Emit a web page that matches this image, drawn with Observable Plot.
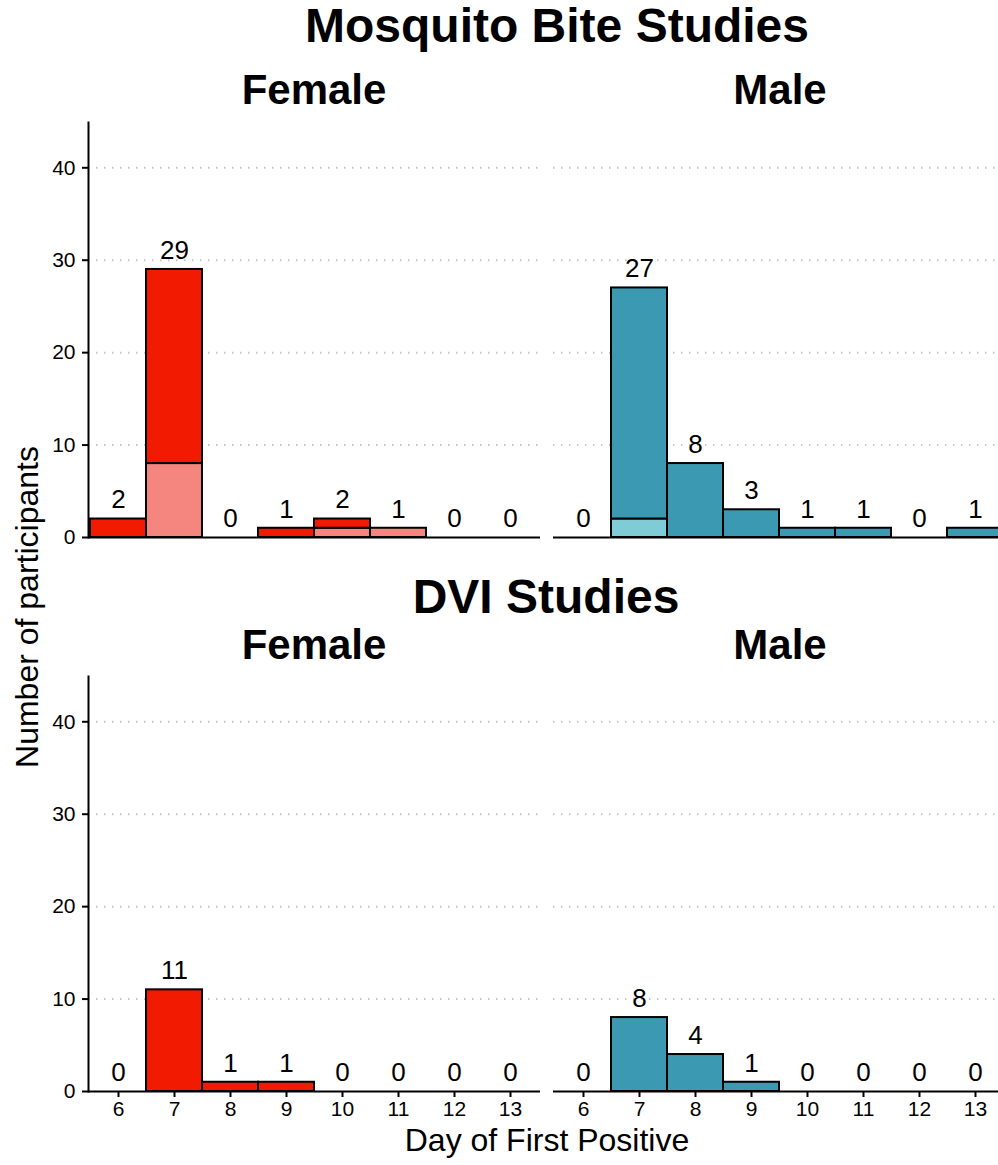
<!DOCTYPE html>
<html>
<head>
<meta charset="utf-8">
<script src="https://cdn.jsdelivr.net/npm/d3@7"></script>
<script src="https://cdn.jsdelivr.net/npm/@observablehq/plot@0.6"></script>
<style>
  html, body { margin: 0; padding: 0; background: white; overflow: hidden; }
  #page { position: relative; width: 998px; height: 1165px; overflow: hidden; background: white;
          font-family: "Liberation Sans", Arial, Helvetica, sans-serif; color: black; }
  .t { position: absolute; white-space: nowrap; line-height: 1; }
  .bold { font-weight: bold; }
  .panel { position: absolute; }
  .panel svg { max-width: none; }
</style>
</head>
<body>
<div id="page">
  <div class="t bold" id="t1" style="font-size:48px;">Mosquito Bite Studies</div>
  <div class="t bold" id="f1" style="font-size:42px;">Female</div>
  <div class="t bold" id="m1" style="font-size:42px;">Male</div>
  <div class="t bold" id="t2" style="font-size:48px;">DVI Studies</div>
  <div class="t bold" id="f2" style="font-size:42px;">Female</div>
  <div class="t bold" id="m2" style="font-size:42px;">Male</div>
  <div class="t" id="xt" style="font-size:32px;">Day of First Positive</div>
  <div class="t" id="yt" style="font-size:32px;">Number of participants</div>
</div>
<script>
// Day of first positive result (x categories)
const days = ["6", "7", "8", "9", "10", "11", "12", "13"];

// Mosquito bite studies: counts split into a lighter lower part and a darker upper part
const biteFemaleLower = [0, 8, 0, 0, 1, 1, 0, 0];
const biteFemaleUpper = [2, 21, 0, 1, 1, 0, 0, 0];
const biteMaleLower   = [0, 2, 0, 0, 0, 0, 0, 0];
const biteMaleUpper   = [0, 25, 8, 3, 1, 1, 0, 1];

// DVI studies
const dviFemale = [0, 11, 1, 1, 0, 0, 0, 0];
const dviMale   = [0, 8, 4, 1, 0, 0, 0, 0];

const yTicks = [0, 10, 20, 30, 40];

const colors = {
  femaleDark: "#F21A00", femaleLight: "#F5857F",
  maleDark: "#3B9AB2", maleLight: "#7FCCD7"
};

const FONT = '"Liberation Sans", Arial, Helvetica, sans-serif';
const TICK_FONT = 21;
const page = document.getElementById("page");

// place a line-height:1 text block so its baseline lands at y
function place(id, cx, baseline) {
  const el = document.getElementById(id);
  const fs = parseFloat(el.style.fontSize);
  el.style.top = (baseline - 0.8465 * fs) + "px";
  el.style.left = cx + "px";
  el.style.transform = "translateX(-50%)";
}
place("t1", 557, 43);
place("f1", 314, 105);
place("m1", 780, 105);
place("t2", 546, 614);
place("f2", 314, 660);
place("m2", 780, 660);
place("xt", 547, 1151);
{
  const el = document.getElementById("yt");
  el.style.left = "27px";
  el.style.top = "607px";
  el.style.transform = "translate(-50%, -50%) rotate(-90deg)";
}

function rowsFrom(lower, upper, lightColor, darkColor) {
  const rows = [];
  days.forEach((d, i) => { if (lower[i] > 0) rows.push({day: d, n: lower[i], color: lightColor}); });
  days.forEach((d, i) => { if (upper[i] > 0) rows.push({day: d, n: upper[i], color: darkColor}); });
  return rows;
}
function totalsFrom(lower, upper) {
  return days.map((d, i) => ({day: d, total: lower[i] + upper[i]}));
}

// one facet panel
function panel({left, top, rows, totals, yAxis, xAxis}) {
  const plotW = 452;
  const mL = yAxis ? 88 : 5;
  const mB = xAxis ? 40 : 8;
  const mT = 22;
  const plotH = 415;
  const marks = [
    Plot.gridY([10, 20, 30, 40], {stroke: "#c4c4c4", strokeOpacity: 1, strokeWidth: 2, strokeDasharray: "1.5,6.5"}),
    Plot.barY(rows, {x: "day", y: "n", fill: "color", stroke: "black", strokeWidth: 2, inset: 0}),
    Plot.ruleY([0], {stroke: "black", strokeWidth: 2}),
    Plot.text(totals, {x: "day", y: "total", text: d => String(d.total), dy: -19, fontSize: 26, fill: "black"})
  ];
  if (yAxis) {
    marks.push(Plot.axisY(yTicks, {tickSize: 6, tickPadding: 7, fontSize: TICK_FONT, strokeWidth: 2, label: null, color: "black"}));
    marks.push(Plot.frame({anchor: "left", stroke: "black", strokeWidth: 2}));
  }
  if (xAxis) {
    marks.push(Plot.axisX({tickSize: 6, tickPadding: 4, fontSize: TICK_FONT, strokeWidth: 2, label: null, color: "black"}));
  }
  const svg = Plot.plot({
    width: mL + plotW,
    height: mT + plotH + mB,
    marginLeft: mL, marginRight: 0, marginTop: mT, marginBottom: mB,
    x: {type: "band", domain: days, padding: 0, axis: null},
    y: {domain: [0, 44.9], axis: null},
    color: {type: "identity"},
    style: {fontFamily: FONT, fontSize: TICK_FONT + "px", background: "transparent", overflow: "visible", color: "black"},
    marks
  });
  // make sure the tick labels carry the intended size
  svg.querySelectorAll('g[aria-label$="tick label"]').forEach(g => {
    g.setAttribute("font-size", TICK_FONT);
    g.style.fontSize = TICK_FONT + "px";
    g.querySelectorAll("text").forEach(t => { t.removeAttribute("font-size"); t.style.fontSize = TICK_FONT + "px"; });
  });
  const wrap = document.createElement("div");
  wrap.className = "panel";
  wrap.style.left = (left - mL) + "px";
  wrap.style.top = (top - mT) + "px";
  wrap.appendChild(svg);
  page.appendChild(wrap);
}

// top row: mosquito bite studies (plot area top 122, baseline 537)
panel({left: 88, top: 122, rows: rowsFrom(biteFemaleLower, biteFemaleUpper, colors.femaleLight, colors.femaleDark),
       totals: totalsFrom(biteFemaleLower, biteFemaleUpper), yAxis: true, xAxis: false});
panel({left: 553, top: 122, rows: rowsFrom(biteMaleLower, biteMaleUpper, colors.maleLight, colors.maleDark),
       totals: totalsFrom(biteMaleLower, biteMaleUpper), yAxis: false, xAxis: false});

// bottom row: DVI studies (plot area top 677, baseline 1091)
const zeros = days.map(() => 0);
panel({left: 88, top: 676, rows: rowsFrom(zeros, dviFemale, colors.femaleLight, colors.femaleDark),
       totals: totalsFrom(zeros, dviFemale), yAxis: true, xAxis: true});
panel({left: 553, top: 676, rows: rowsFrom(zeros, dviMale, colors.maleLight, colors.maleDark),
       totals: totalsFrom(zeros, dviMale), yAxis: false, xAxis: true});
</script>
</body>
</html>
